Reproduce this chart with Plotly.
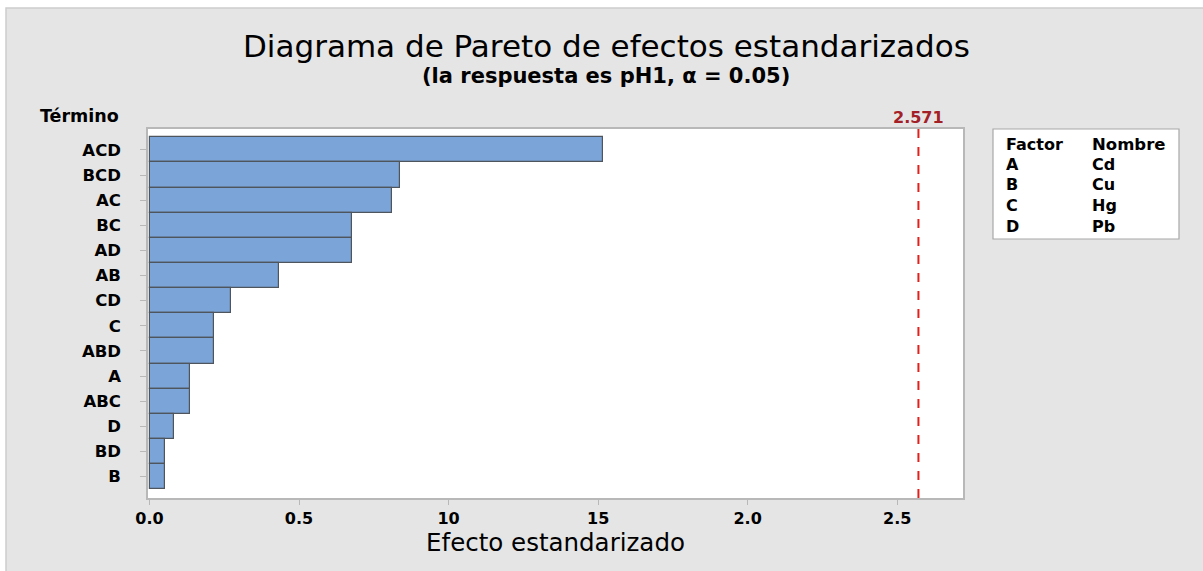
import plotly.graph_objects as go

terms = ["ACD", "BCD", "AC", "BC", "AD", "AB", "CD", "C", "ABD", "A", "ABC", "D", "BD", "B"]
effects = [1.517, 0.839, 0.812, 0.677, 0.677, 0.432, 0.272, 0.214, 0.214, 0.136, 0.136, 0.083, 0.053, 0.053]
critical = 2.571
x_tick_vals = [0.0, 0.5, 1.0, 1.5, 2.0, 2.5]
x_tick_text = ["0.0", "0.5", "10", "15", "2.0", "2.5"]
factors = ["A", "B", "C", "D"]
names = ["Cd", "Cu", "Hg", "Pb"]

FONT = "DejaVu Sans"
pos = list(range(len(terms)))

L, R, T, B = 148, 963, 129, 498
W, H = R - L, B - T


def px(x):
    return (x - L) / W


def py(y):
    return (B - y) / H


fig = go.Figure()
fig.add_trace(go.Bar(
    x=effects, y=pos, orientation="h",
    marker=dict(color="#7BA5D8", line=dict(color="#4F555C", width=1.2)),
    width=1.0, showlegend=False, hoverinfo="x+y",
))
fig.add_trace(go.Scatter(
    x=[critical, critical], y=[-0.83, 13.85], mode="lines",
    line=dict(color="#E0201B", width=2, dash="dash"),
    showlegend=False, hoverinfo="skip",
))

fig.update_layout(
    width=1203, height=571,
    margin=dict(l=L, r=1203 - R, t=T, b=571 - B),
    paper_bgcolor="white",
    plot_bgcolor="white",
    font=dict(family=FONT, color="black"),
    bargap=0,
    shapes=[
        dict(type="rect", xref="paper", yref="paper",
             x0=px(6), x1=px(1210), y0=py(580), y1=py(8),
             fillcolor="#E5E5E5", line=dict(color="#CDCDCD", width=1.5), layer="below"),
        dict(type="rect", xref="paper", yref="paper",
             x0=0, x1=1, y0=0, y1=1,
             fillcolor="white", line=dict(width=0), layer="below"),
        dict(type="rect", xref="paper", yref="paper",
             x0=px(993), x1=px(1179), y0=py(239), y1=py(129),
             fillcolor="white", line=dict(color="#A8A8A8", width=1.2)),
    ],
    annotations=[
        dict(text="Diagrama de Pareto de efectos estandarizados", xref="paper", yref="paper",
             x=px(606), y=py(46), xanchor="center", yanchor="middle",
             showarrow=False, font=dict(size=31, family=FONT, color="black")),
        dict(text="<b>(la respuesta es pH1, α = 0.05)</b>", xref="paper", yref="paper",
             x=px(606), y=py(76), xanchor="center", yanchor="middle",
             showarrow=False, font=dict(size=21, family=FONT, color="black")),
        dict(text="<b>Término</b>", xref="paper", yref="paper",
             x=px(38), y=py(116), xanchor="left", yanchor="middle",
             showarrow=False, font=dict(size=17.5, family=FONT, color="black")),
        dict(text="<b>2.571</b>", xref="x", yref="paper",
             x=critical, y=py(117), xanchor="center", yanchor="middle",
             showarrow=False, font=dict(size=16, family=FONT, color="#A32026")),
        dict(text="<b>Factor</b>", xref="paper", yref="paper",
             x=px(1004), y=py(144), xanchor="left", yanchor="middle",
             showarrow=False, font=dict(size=16, family=FONT, color="black")),
        dict(text="<b>Nombre</b>", xref="paper", yref="paper",
             x=px(1090), y=py(144), xanchor="left", yanchor="middle",
             showarrow=False, font=dict(size=16.5, family=FONT, color="black")),
    ],
)

row_y = [164, 184, 205, 226]
for f, n, ry in zip(factors, names, row_y):
    fig.add_annotation(text="<b>" + f + "</b>", xref="paper", yref="paper",
                       x=px(1004), y=py(ry), xanchor="left", yanchor="middle",
                       showarrow=False, font=dict(size=16, family=FONT, color="black"))
    fig.add_annotation(text="<b>" + n + "</b>", xref="paper", yref="paper",
                       x=px(1090), y=py(ry), xanchor="left", yanchor="middle",
                       showarrow=False, font=dict(size=16, family=FONT, color="black"))

fig.update_xaxes(
    range=[-0.005, 2.72], tickvals=x_tick_vals, ticktext=["<b>" + t + "</b>" for t in x_tick_text],
    showgrid=False, zeroline=False, showline=True, linecolor="#B8B8B8", linewidth=1.5,
    mirror=True, ticks="outside", ticklen=5, tickcolor="#B8B8B8",
    tickfont=dict(size=16, family=FONT, color="black"),
    title=dict(text="Efecto estandarizado", font=dict(size=24.5, family=FONT, color="black"), standoff=5),
)
fig.update_yaxes(
    range=[13.85, -0.83], tickvals=pos, ticktext=["<b>" + t + "</b>" for t in terms],
    showgrid=False, zeroline=False, showline=True, linecolor="#B8B8B8", linewidth=1.5,
    mirror=True, ticks="outside", ticklen=6, tickcolor="#B8B8B8", ticklabelstandoff=16,
    tickfont=dict(size=16.5, family=FONT, color="black"),
)

fig.write_html("out.html")
